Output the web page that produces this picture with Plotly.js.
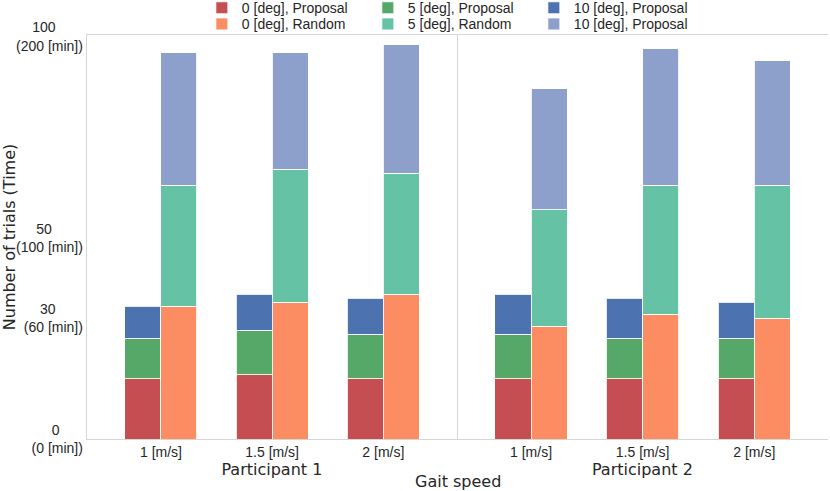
<!DOCTYPE html>
<html>
<head>
<meta charset="utf-8">
<script src="https://cdn.plot.ly/plotly-3.0.1.min.js"></script>
<style>
body{margin:0;padding:0;background:#fff}
#chart{width:830px;height:491px}
</style>
</head>
<body>
<div id="chart"></div>
<script>
// gait speeds and participants
var speeds = ["1 [m/s]", "1.5 [m/s]", "2 [m/s]"]
var participants = ["Participant 1", "Participant 2"]

// number of trials, one list per participant  [1, 1.5, 2 m/s]
var prop0_p1 = [15, 16, 15], prop0_p2 = [15, 15, 15]
var prop5_p1 = [10, 11, 11], prop5_p2 = [11, 10, 10]
var prop10_p1 = [8, 9, 9], prop10_p2 = [10, 10, 9]
var rand0_p1 = [33, 34, 36], rand0_p2 = [28, 31, 30]
var rand5_p1 = [30, 33, 30], rand5_p2 = [29, 32, 33]
var rand10_p1 = [33, 29, 32], rand10_p2 = [30, 34, 31]

var yTickVals = [0, 30, 50, 100]
var yTickText = ["0\u00a0\u00a0\u00a0\u00a0\u00a0\u00a0<br>(0 [min])", "30\u00a0\u00a0\u00a0\u00a0\u00a0\u00a0\u00a0<br>(60 [min])",
  "50\u00a0\u00a0\u00a0\u00a0\u00a0\u00a0\u00a0\u00a0<br>(100 [min])", "100\u00a0\u00a0\u00a0\u00a0\u00a0\u00a0\u00a0<br>(200 [min])"]

// proposal stack goes in the first legend row, random stack in the second
var series = [
  {name: "0 [deg], Proposal", p1: prop0_p1, p2: prop0_p2, color: "#C44E52", side: -1, leg: "legend"},
  {name: "5 [deg], Proposal", p1: prop5_p1, p2: prop5_p2, color: "#55A868", side: -1, leg: "legend"},
  {name: "10 [deg], Proposal", p1: prop10_p1, p2: prop10_p2, color: "#4C72B0", side: -1, leg: "legend"},
  {name: "0 [deg], Random", p1: rand0_p1, p2: rand0_p2, color: "#FC8D62", side: 1, leg: "legend2"},
  {name: "5 [deg], Random", p1: rand5_p1, p2: rand5_p2, color: "#66C2A5", side: 1, leg: "legend2"},
  {name: "10 [deg], Proposal", p1: rand10_p1, p2: rand10_p2, color: "#8DA0CB", side: 1, leg: "legend2"}
]

var barW = 0.324
var data = []
for (var k = 0; k < series.length; k++) {
  var s = series[k]
  var xs = []
  for (var j = 0; j < speeds.length; j++) { xs.push(j + s.side * barW / 2) }
  var lists = [s.p1, s.p2]
  for (var p = 0; p < 2; p++) {
    data.push({
      type: "bar", x: xs, y: lists[p], width: barW, name: s.name,
      xaxis: p == 0 ? "x" : "x2", yaxis: "y",
      legend: s.leg, legendgroup: s.name + k, showlegend: p == 0,
      marker: {color: s.color, line: {color: "rgba(255,255,255,0.85)", width: 1}},
      hoverinfo: "name+y"
    })
  }
}

var tickFont = {family: "Liberation Sans, Arial, sans-serif", size: 14, color: "#262626"}
var legFont = {family: "Liberation Sans, Arial, sans-serif", size: 14, color: "#262626"}
var titleFont = {family: "DejaVu Sans, sans-serif", size: 16, color: "#262626"}

function xax(dom, title) {
  return {
    domain: dom, range: [-0.665, 2.66], tickvals: [0, 1, 2], ticktext: speeds,
    tickfont: tickFont, ticks: "", showgrid: false, zeroline: false,
    showline: true, mirror: true, linecolor: "#d6d6d6", linewidth: 1.3,
    title: {text: title, font: titleFont, standoff: 0}
  }
}

function leg(y) {
  return {orientation: "h", x: 0.155, xanchor: "left", y: y, yanchor: "top",
    entrywidth: 121, font: legFont, tracegroupgap: 0, bgcolor: "rgba(0,0,0,0)"}
}

var layout = {
  width: 830, height: 491,
  margin: {l: 87, r: 2, t: 35, b: 52, autoexpand: false},
  paper_bgcolor: "#fff", plot_bgcolor: "#fff",
  barmode: "stack", bargap: 0,
  showlegend: true,
  legend: leg(1.106),
  legend2: leg(1.066),
  xaxis: xax([0, 0.499], participants[0]),
  xaxis2: xax([0.499, 1], participants[1]),
  yaxis: {
    range: [0, 100.4], tickvals: yTickVals, ticktext: yTickText, tickfont: tickFont,
    ticks: "", showgrid: false, zeroline: false,
    showline: true, mirror: true, linecolor: "#d6d6d6", linewidth: 1.3,
    title: {text: "Number of trials (Time)", font: titleFont, standoff: 4}
  },
  annotations: [{text: "Gait speed", xref: "paper", yref: "paper", x: 0.5, y: 0, yshift: -31,
    xanchor: "center", yanchor: "top", showarrow: false, font: titleFont}]
}

Plotly.newPlot("chart", data, layout, {displayModeBar: false, staticPlot: true})
</script>
</body>
</html>
